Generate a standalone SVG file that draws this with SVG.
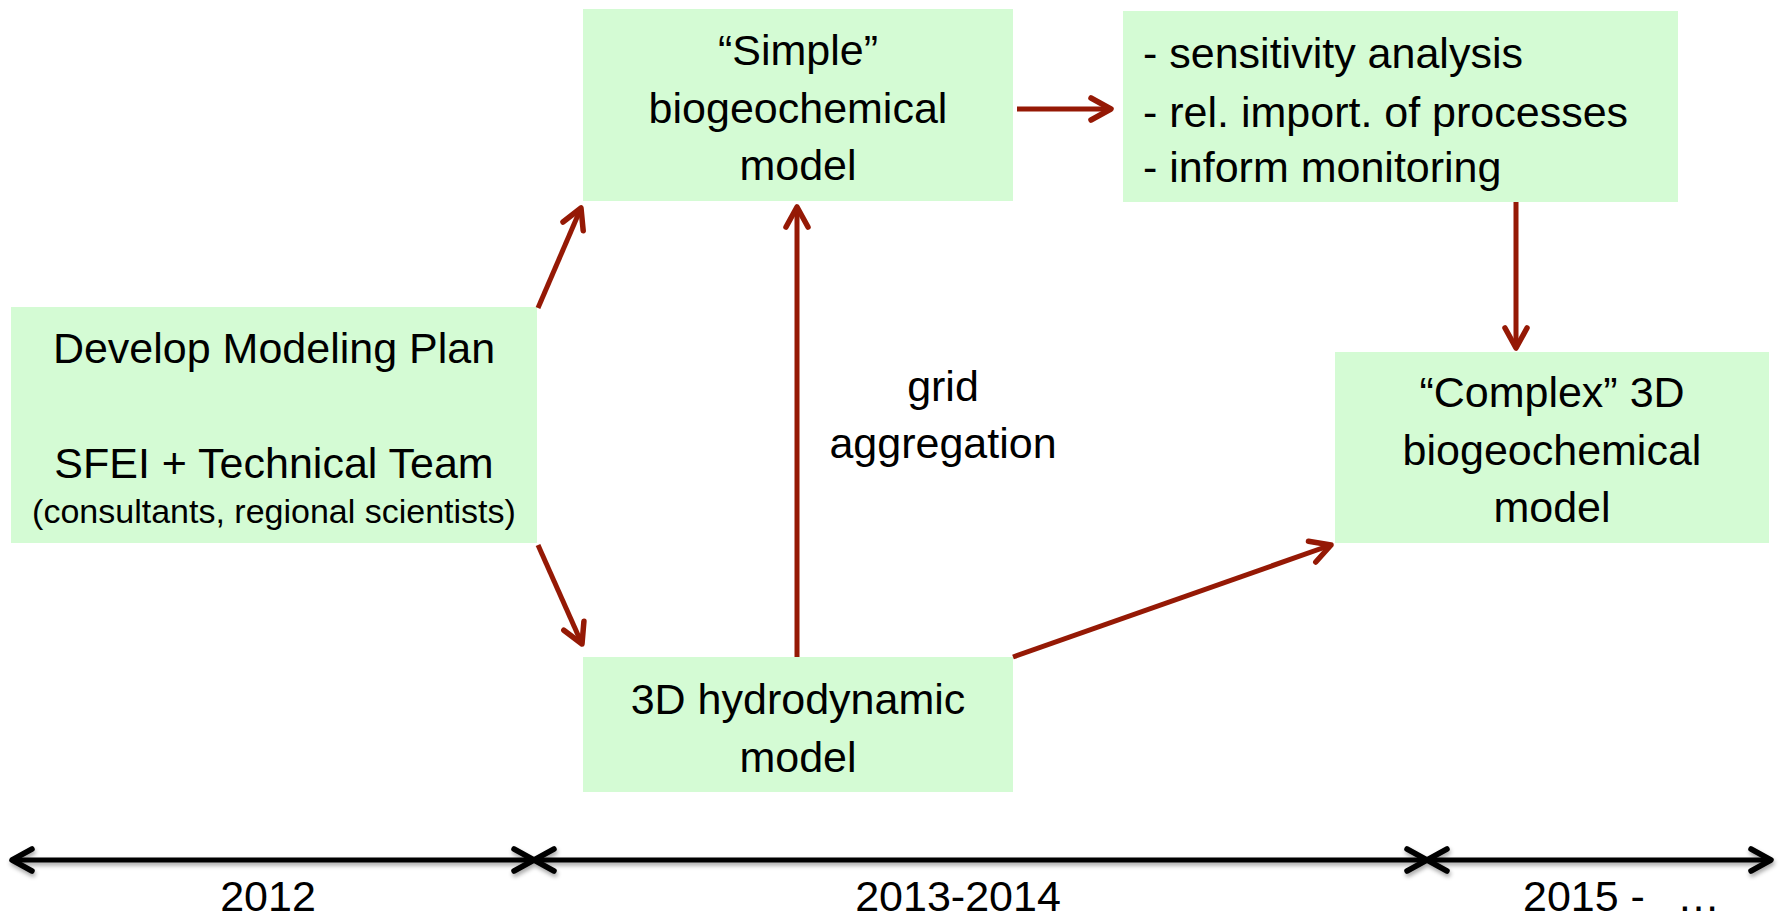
<svg xmlns="http://www.w3.org/2000/svg" width="1779" height="920" viewBox="0 0 1779 920">
  <style>
    .box { fill: #D4FBD4; }
    .t { font-family: "Liberation Sans", Arial, sans-serif; font-size: 43px; fill: #000; }
    .c { text-anchor: middle; }
    .small { font-size: 34px; }
    .red { stroke: #951905; stroke-width: 5; fill: none; marker-end: url(#redArrow); }
    .tl { stroke: #000; stroke-width: 5; fill: none; marker-start: url(#blackArrow); marker-end: url(#blackArrow); }
  </style>
  <defs>
    <marker id="redArrow" viewBox="-26 -16 30 32" markerWidth="30" markerHeight="32" refX="0" refY="0" orient="auto" markerUnits="userSpaceOnUse">
      <path d="M-20,-11 L0,0 L-20,11" fill="none" stroke="#951905" stroke-width="5.5" stroke-linecap="round" stroke-linejoin="round"/>
    </marker>
    <marker id="blackArrow" viewBox="-26 -16 30 32" markerWidth="30" markerHeight="32" refX="0" refY="0" orient="auto-start-reverse" markerUnits="userSpaceOnUse">
      <path d="M-20,-11 L0,0 L-20,11" fill="none" stroke="#000" stroke-width="5.5" stroke-linecap="round" stroke-linejoin="round"/>
    </marker>
    <filter id="shadow" filterUnits="userSpaceOnUse" x="0" y="830" width="1779" height="60">
      <feDropShadow dx="1" dy="3" stdDeviation="2" flood-color="#000" flood-opacity="0.35"/>
    </filter>
  </defs>
  <rect width="1779" height="920" fill="#fff"/>

  <g id="node-plan">
    <rect class="box" x="11" y="307" width="526" height="236"/>
    <text class="t c" x="274" y="363">Develop Modeling Plan</text>
    <text class="t c" x="274" y="478">SFEI + Technical Team</text>
    <text class="t c small" x="274" y="523">(consultants, regional scientists)</text>
  </g>

  <g id="node-simple">
    <rect class="box" x="583" y="9" width="430" height="192"/>
    <text class="t c" x="798" y="65">“Simple”</text>
    <text class="t c" x="798" y="123">biogeochemical</text>
    <text class="t c" x="798" y="180">model</text>
  </g>

  <g id="node-analysis">
    <rect class="box" x="1123" y="11" width="555" height="191"/>
    <text class="t" x="1143" y="68">- sensitivity analysis</text>
    <text class="t" x="1143" y="127">- rel. import. of processes</text>
    <text class="t" x="1143" y="182">- inform monitoring</text>
  </g>

  <g id="node-complex">
    <rect class="box" x="1335" y="352" width="434" height="191"/>
    <text class="t c" x="1552" y="407">“Complex” 3D</text>
    <text class="t c" x="1552" y="465">biogeochemical</text>
    <text class="t c" x="1552" y="522">model</text>
  </g>

  <g id="node-hydro">
    <rect class="box" x="583" y="657" width="430" height="135"/>
    <text class="t c" x="798" y="714">3D hydrodynamic</text>
    <text class="t c" x="798" y="772">model</text>
  </g>

  <g id="label-grid">
    <text class="t c" x="943" y="401">grid</text>
    <text class="t c" x="943" y="458">aggregation</text>
  </g>

  <g id="connectors">
    <path class="red" d="M538,308 L581,208"/>
    <path class="red" d="M538,545 L582,644"/>
    <path class="red" d="M797,657 L797,207"/>
    <path class="red" d="M1017,109 L1111,109"/>
    <path class="red" d="M1516,202 L1516,348"/>
    <path class="red" d="M1013,657 L1331,545"/>
  </g>

  <g id="timeline" filter="url(#shadow)">
    <path class="tl" d="M12,860 L534,860"/>
    <path class="tl" d="M534,860 L1427,860"/>
    <path class="tl" d="M1427,860 L1771,860"/>
  </g>

  <g id="timeline-labels">
    <text class="t c" x="268" y="911">2012</text>
    <text class="t c" x="958" y="911">2013-2014</text>
    <text class="t" y="911"><tspan x="1523">2015 -</tspan><tspan x="1677">…</tspan></text>
  </g>
</svg>
